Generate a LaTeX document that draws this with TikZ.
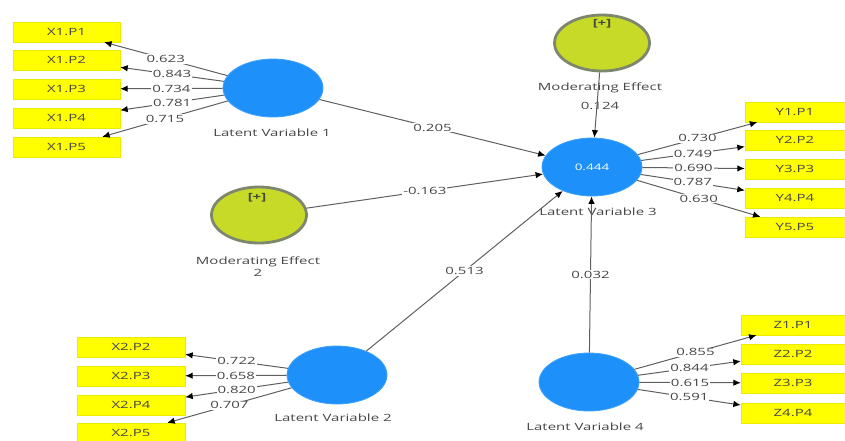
\documentclass[tikz,border=0pt]{standalone}
\usepackage{fontspec}
\setmainfont{Open Sans}[FakeStretch=1.5]
\usetikzlibrary{shapes.geometric,arrows.meta}
\definecolor{lvblue}{RGB}{30,144,250}
\definecolor{megreen}{RGB}{200,218,40}
\definecolor{megray}{RGB}{125,135,110}
\definecolor{boxyellow}{RGB}{255,255,0}
\definecolor{edgegray}{RGB}{95,95,95}
\definecolor{txtgray}{RGB}{70,70,70}
\begin{document}
\begin{tikzpicture}[x=1pt,y=-1pt,
  lv/.style={ellipse,fill=lvblue,draw=lvblue!85!white,line width=0.8pt,minimum width=100pt,minimum height=58pt,inner sep=0pt,text=white,font=\fontsize{9}{10}\selectfont},
  me/.style={ellipse,fill=megreen,draw=megray,line width=2.8pt,minimum width=95pt,minimum height=56pt,inner sep=0pt},
  ind/.style={rectangle,fill=boxyellow,draw=boxyellow!92!black,line width=0.4pt,minimum height=20pt,inner sep=0pt,font=\fontsize{10}{12}\selectfont,text=txtgray},
  lbl/.style={font=\fontsize{10}{12}\selectfont,text=txtgray,inner sep=1pt,align=center},
  val/.style={font=\fontsize{10}{12}\selectfont,text=txtgray,fill=white,inner sep=1pt},
  conn/.style={draw=edgegray,line width=1pt,-{Latex[length=7.5pt,width=6.5pt,color=black]}},
  plus/.style={font=\fontsize{10}{11}\selectfont\bfseries,text=megray!55!black}]
\useasboundingbox (0,0) rectangle (845,440);

% latent variables
\node[lv] (lv1) at (273,88) {};
\node[lbl] (lv1t) at (272,133) {Latent Variable 1};
\node[lv] (lv2) at (337,375) {};
\node[lbl] (lv2t) at (333,418) {Latent Variable 2};
\node[lv] (lv3) at (592,167) {0.444};
\node[lbl] (lv3t) at (598,212) {Latent Variable 3};
\node[lv] (lv4) at (589,382) {};
\node[lbl] (lv4t) at (585,427) {Latent Variable 4};

% moderating effects
\node[me] (me1) at (602,43) {};
\node[plus] (me1p) at (602,24) {[+]};
\node[lbl] (me1t) at (600,88) {Moderating Effect};
\node[lbl] (me1v) at (600,106) {0.124};
\node[me] (me2) at (259,215) {};
\node[plus] (me2p) at (257,198) {[+]};
\node[lbl] (me2t) at (258,267) {Moderating Effect\\2};

% indicators
\foreach \i/\y in {1/32,2/60,3/89,4/118,5/147}
  \node[ind,minimum width=107pt] (x1p\i) at (66.5,\y) {X1.P\i};
\foreach \i/\y in {1/112,2/140,3/169,4/198,5/227}
  \node[ind,minimum width=100pt] (y\i) at (795,\y) {Y\i.P\i};
\foreach \i/\y in {2/347,3/376,4/405,5/433}
  \node[ind,minimum width=108pt] (x2p\i) at (131,\y) {X2.P\i};
\foreach \i/\y in {1/325,2/354,3/383,4/413}
  \node[ind,minimum width=104pt] (z\i) at (793,\y) {Z\i.P\i};

% structural paths
\draw[conn] (lv1) -- (lv3);
\draw[conn] (me2) -- (lv3);
\draw[conn] (lv2) -- (lv3);
\draw[conn] (lv4) -- (lv3);
\draw[conn] (me1) -- (lv3);

% measurement paths
\foreach \i in {1,...,5} \draw[conn] (lv1) -- (x1p\i);
\foreach \i in {1,...,5} \draw[conn] (lv3) -- (y\i);
\foreach \i in {2,...,5} \draw[conn] (lv2) -- (x2p\i);
\foreach \i in {1,...,4} \draw[conn] (lv4) -- (z\i);

% coefficient labels
\path (lv1) -- node[val] {0.205} (lv3);
\path (me2) -- node[val] {-0.163} (lv3);
\path (lv2) -- node[val] {0.513} (lv3);
\path (lv4) -- node[val] {0.032} (lv3);
\foreach \i/\v in {1/0.623,2/0.843,3/0.734,4/0.781,5/0.715}
  \path (lv1) -- node[val] {\v} (x1p\i);
\foreach \i/\v in {1/0.730,2/0.749,3/0.690,4/0.787,5/0.630}
  \path (lv3) -- node[val] {\v} (y\i);
\foreach \i/\v in {2/0.722,3/0.658,4/0.820,5/0.707}
  \path (lv2) -- node[val] {\v} (x2p\i);
\foreach \i/\v in {1/0.855,2/0.844,3/0.615,4/0.591}
  \path (lv4) -- node[val] {\v} (z\i);
\end{tikzpicture}
\end{document}
